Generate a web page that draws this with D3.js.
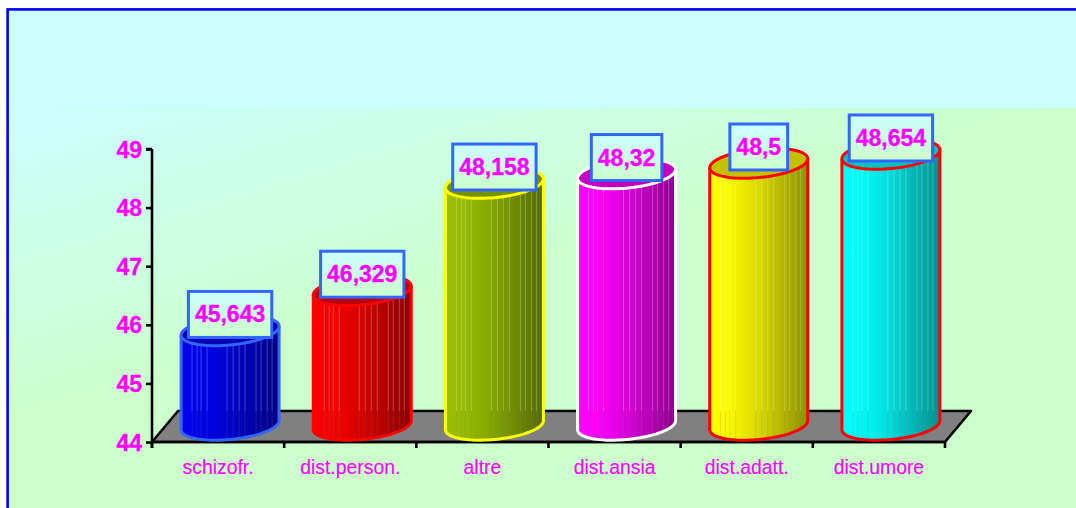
<!DOCTYPE html>
<html>
<head>
<meta charset="utf-8">
<script src="https://cdn.jsdelivr.net/npm/d3@7/dist/d3.min.js"></script>
<style>
html,body{margin:0;padding:0;background:#fff;overflow:hidden}
text{font-family:"Liberation Sans",Arial,sans-serif;fill:#ff00ff}
</style>
</head>
<body>
<script>
const categories = ["schizofr.","dist.person.","altre","dist.ansia","dist.adatt.","dist.umore"];
const values = [45.643,46.329,48.158,48.32,48.5,48.654];
const yTicks = [44,45,46,47,48,49];
const barColors = ["#0000ee","#f80000","#99bf00","#ff00ff","#ffff00","#00ffff"];
const barStrokes = ["#3366ff","#ff0000","#ffff00","#ffffff","#ff0000","#ff0000"];
const seams = [0.112,0.163,0.204,0.265,0.469,0.531,0.592,0.653,0.765,0.816,0.878,0.929];

const W=1076,H=508;
const svg=d3.select("body").append("svg").attr("width",W).attr("height",H).style("display","block");
const defs=svg.append("defs");

const x=d3.scaleBand().domain(categories).range([152,945]).paddingInner(0.2585).paddingOuter(0.2585/2);
const y=d3.scaleLinear().domain([44,49]).range([442,149]);
const depthX=12, floorDX=26, floorDY=31, ry=15, cosP=-0.3, sinP=Math.sqrt(1-cosP*cosP);

// background
const bg=defs.append("linearGradient").attr("id","bg").attr("gradientUnits","userSpaceOnUse")
  .attr("x1",0).attr("y1",108).attr("x2",88.4).attr("y2",403.5);
bg.append("stop").attr("offset",0).attr("stop-color","#ccffff");
bg.append("stop").attr("offset",1).attr("stop-color","#ccffcc");
const boxG=defs.append("linearGradient").attr("id","boxG").attr("x1",0).attr("y1",0).attr("x2",0).attr("y2",1);
boxG.append("stop").attr("offset",0).attr("stop-color","#ccffff");
boxG.append("stop").attr("offset",1).attr("stop-color","#ccffcc");

svg.append("rect").attr("x",7.6).attr("y",9.4).attr("width",W+20).attr("height",H+20).attr("fill","url(#bg)");
svg.append("rect").attr("x",8).attr("y",10).attr("width",W).attr("height",98).attr("fill","#ccffff");
svg.append("rect").attr("x",7.6).attr("y",9.4).attr("width",W+20).attr("height",H+20)
  .attr("fill","none").attr("stroke","#0000ff").attr("stroke-width",2.6);

// floor
const y0=y(44), x0=x.range()[0], x1=x.range()[1];
svg.append("path")
  .attr("d",d3.line()([[x0,y0],[x0+floorDX,y0-floorDY],[x1+floorDX,y0-floorDY],[x1,y0]])+"Z")
  .attr("fill","#808080").attr("stroke","#000").attr("stroke-width",2.6).attr("stroke-linejoin","round");

// axes
const axisY=svg.append("g").attr("transform",`translate(${x0},0)`)
  .call(d3.axisLeft(y).tickValues(yTicks).tickSize(6).tickPadding(4).tickFormat(d3.format("d")));
axisY.selectAll("line,path").attr("stroke","#000").attr("stroke-width",2.6);
axisY.select("path").attr("d",`M0,${y(49)}H-6M0,${y(49)}V${y0+6}`);
axisY.selectAll("text").attr("font-size",23).attr("font-weight","bold").attr("fill","#ff00ff")
  .attr("stroke","#ff00ff").attr("stroke-width",0.35)
  .attr("font-family",'"Liberation Sans",Arial,sans-serif').attr("dy","0.35em").attr("x",-10);

const axisX=svg.append("g").attr("transform",`translate(0,${y0})`)
  .call(d3.axisBottom(x).tickSize(0).tickPadding(0));
axisX.select("path").attr("d",`M${x0},0H${x1}`).attr("stroke","#000").attr("stroke-width",2.6);
axisX.selectAll("text").attr("font-size",20.5).attr("fill","#ff00ff").attr("y",31.5).attr("dy",0)
  .attr("stroke","#ff00ff").attr("stroke-width",0.15)
  .attr("font-family",'"Liberation Sans",Arial,sans-serif')
  .each(function(){const t=this; t.setAttribute("textLength",t.getComputedTextLength()*0.945); t.setAttribute("lengthAdjust","spacingAndGlyphs");});
axisX.selectAll(".edge").data(d3.range(categories.length+1)).enter().append("line").attr("class","edge")
  .attr("x1",i=>x0+i*x.step()).attr("x2",i=>x0+i*x.step()).attr("y1",0).attr("y2",6)
  .attr("stroke","#000").attr("stroke-width",2.6);

// geometry helpers
const line=d3.line();
const pt=(cx,cy,rx,t)=>[cx+rx*Math.cos(t), cy+ry*(Math.cos(t)*cosP+Math.sin(t)*sinP)];
const arc=(cx,cy,rx,a,b,n=48)=>d3.range(n+1).map(i=>pt(cx,cy,rx,a+(b-a)*i/n));
const shade=(c,k)=>{const r=d3.rgb(c);return d3.rgb(r.r*k,r.g*k,r.b*k).formatHex();};

const floorBack=y0-floorDY;
values.forEach((v,i)=>{
  const c=categories[i], rx=x.bandwidth()/2, cx=x(c)+rx+depthX;
  const yTop=y(v)-ry, yBot=y0-1.8-ry;
  const gid="g"+i;
  const g=defs.append("linearGradient").attr("id",gid).attr("x1",0).attr("x2",1).attr("y1",0).attr("y2",0);
  [[0,1],[0.2,0.98],[0.5,0.85],[1,0.56]].forEach(([o,k])=>g.append("stop").attr("offset",o).attr("stop-color",shade(barColors[i],k)));
  const bar=svg.append("g");
  const front=arc(cx,yBot,rx,Math.PI,0);
  const outline=[pt(cx,yTop,rx,Math.PI),...front,pt(cx,yTop,rx,0)];
  bar.append("path").attr("d",line(outline)+"Z").attr("fill",`url(#${gid})`).attr("stroke","none");
  seams.forEach(s=>{
    const t=Math.acos(1-2*s);
    const xs=cx-rx*(1-2*s);
    const yA=pt(cx,yTop,rx,Math.PI-t)[1]+1, yB=pt(cx,yBot,rx,Math.PI-t)[1]-1;
    bar.append("line").attr("x1",xs).attr("x2",xs).attr("y1",yA).attr("y2",floorBack)
      .attr("stroke","#e8ffe8").attr("stroke-opacity",0.28).attr("stroke-width",1);
    bar.append("line").attr("x1",xs).attr("x2",xs).attr("y1",floorBack).attr("y2",yB)
      .attr("stroke","#808080").attr("stroke-opacity",0.22).attr("stroke-width",1);
  });
  bar.append("path").attr("d",line(outline)).attr("fill","none").attr("stroke",barStrokes[i]).attr("stroke-width",3).attr("stroke-linejoin","round");
  bar.append("path").attr("d",line(arc(cx,yTop,rx,0,2*Math.PI,96))+"Z")
    .attr("fill",shade(barColors[i],0.76)).attr("stroke",barStrokes[i]).attr("stroke-width",3);
});

// value labels
values.forEach((v,i)=>{
  const c=categories[i], cx=x(c)+x.bandwidth()/2+depthX, cy=y(v)-31.3;
  const lab=svg.append("g");
  const rect=lab.append("rect").attr("fill","url(#boxG)").attr("stroke","#3366ff").attr("stroke-width",3);
  const txt=lab.append("text").attr("x",cx).attr("y",cy+8).attr("text-anchor","middle")
    .attr("font-size",23).attr("font-weight","bold").attr("stroke","#ff00ff").attr("stroke-width",0.35)
    .text(String(v).replace(".",","));
  const w=txt.node().getComputedTextLength()+13;
  rect.attr("x",cx-w/2).attr("y",cy-23).attr("width",w).attr("height",46);
});
</script>
</body>
</html>
